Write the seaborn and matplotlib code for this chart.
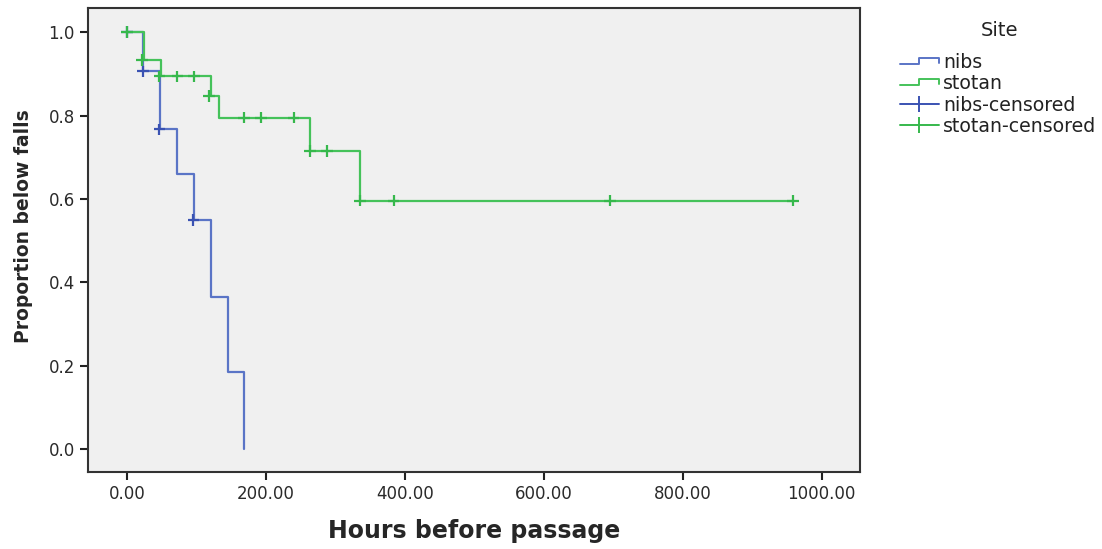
import matplotlib
matplotlib.use("Agg")
import matplotlib.pyplot as plt
from matplotlib.lines import Line2D
from matplotlib.legend_handler import HandlerBase
import seaborn as sns
import pandas as pd

# ---- data ----
sites = ["nibs", "stotan"]

nibs_time = [0, 24, 48, 73, 97, 121, 145, 169]
nibs_surv = [1.0, 0.906, 0.767, 0.659, 0.549, 0.365, 0.184, 0.0]
nibs_cens_time = [0, 23, 47, 96]
nibs_cens_surv = [1.0, 0.906, 0.767, 0.549]

stotan_time = [0, 25, 49, 121, 132, 264, 336, 959]
stotan_surv = [1.0, 0.933, 0.894, 0.847, 0.795, 0.715, 0.596, 0.596]
stotan_cens_time = [0, 22, 47, 73, 97, 118, 169, 193, 240, 264, 288, 336, 384, 695, 959]
stotan_cens_surv = [1.0, 0.933, 0.894, 0.894, 0.894, 0.847, 0.795, 0.795, 0.795,
                    0.715, 0.715, 0.596, 0.596, 0.596, 0.596]

x_ticks = [0, 200, 400, 600, 800, 1000]
y_ticks = [0.0, 0.2, 0.4, 0.6, 0.8, 1.0]

legend_title = "Site"
legend_labels = ["nibs", "stotan", "nibs-censored", "stotan-censored"]

# ---- styling ----
line_colors = {"nibs": "#5a74c6", "stotan": "#45c25a"}
cens_colors = {"nibs": "#3a52b2", "stotan": "#36b84c"}

curves = pd.DataFrame({
    "time": nibs_time + stotan_time,
    "surv": nibs_surv + stotan_surv,
    "site": ["nibs"] * len(nibs_time) + ["stotan"] * len(stotan_time),
})
cens = pd.DataFrame({
    "time": nibs_cens_time + stotan_cens_time,
    "surv": nibs_cens_surv + stotan_cens_surv,
    "site": ["nibs"] * len(nibs_cens_time) + ["stotan"] * len(stotan_cens_time),
})

sns.set_style("ticks")
plt.rcParams["font.family"] = ["DejaVu Sans"]

fig = plt.figure(figsize=(11.02, 5.49), dpi=100)
ax = fig.add_axes([0.0799, 0.1408, 0.7005, 0.8446])
ax.set_facecolor("#f0f0f0")

sns.lineplot(data=curves, x="time", y="surv", hue="site", palette=line_colors,
             estimator=None, sort=False, drawstyle="steps-post", linewidth=1.6,
             legend=False, ax=ax)
sns.scatterplot(data=cens, x="time", y="surv", hue="site", palette=cens_colors,
                marker="+", s=70, linewidth=1.6, legend=False, ax=ax, zorder=3)

ax.set_xlim(-55.7, 1055)
ax.set_ylim(-0.054, 1.058)
ax.set_xticks(x_ticks)
ax.set_xticklabels([f"{v:.2f}" for v in x_ticks])
ax.set_yticks(y_ticks)
ax.set_yticklabels([f"{v:.1f}" for v in y_ticks])
ax.tick_params(axis="both", direction="out", length=6, width=1.5, labelsize=12,
               colors="#222222", labelcolor="#2a2a2a")
for sp in ax.spines.values():
    sp.set_linewidth(1.5)
    sp.set_color("#333333")

ax.set_xlabel("Hours before passage", fontsize=17, fontweight="bold")
ax.xaxis.set_label_coords(0.5, -0.103)
ax.set_ylabel("Proportion below falls", fontsize=13.5, fontweight="bold")
ax.yaxis.set_label_coords(-0.0713, 0.530)


class StepHandler(HandlerBase):
    def create_artists(self, legend, orig_handle, xdescent, ydescent, width,
                       height, fontsize, trans):
        x0 = -xdescent
        y0 = -ydescent
        xs = [x0, x0 + 0.5 * width, x0 + 0.5 * width, x0 + width, x0 + width]
        ys = [y0 + 0.3 * height, y0 + 0.3 * height, y0 + 0.75 * height,
              y0 + 0.75 * height, y0 + 0.4 * height]
        ln = Line2D(xs, ys, color=orig_handle.get_color(), linewidth=1.4,
                    transform=trans)
        return [ln]


h_nibs = Line2D([], [], color=line_colors["nibs"])
h_stotan = Line2D([], [], color=line_colors["stotan"])
h_nc = Line2D([], [], color=cens_colors["nibs"], marker="|", markersize=11,
              markeredgewidth=1.4, linewidth=1.4)
h_sc = Line2D([], [], color=cens_colors["stotan"], marker="|", markersize=11,
              markeredgewidth=1.4, linewidth=1.4)

fig.text(1000 / 1102, 1 - 30 / 549, legend_title, ha="center", va="center",
         fontsize=14, color="#222222")
leg = fig.legend([h_nibs, h_stotan, h_nc, h_sc], legend_labels,
                 handler_map={h_nibs: StepHandler(), h_stotan: StepHandler()},
                 loc="upper left", bbox_to_anchor=(900 / 1102, 1 - 53 / 549),
                 frameon=False, fontsize=13.6, borderpad=0,
                 handlelength=2.05, handletextpad=0.22, labelspacing=0.12,
                 borderaxespad=0)
for t in leg.get_texts():
    t.set_color("#222222")

fig.savefig("out.png", dpi=100)
